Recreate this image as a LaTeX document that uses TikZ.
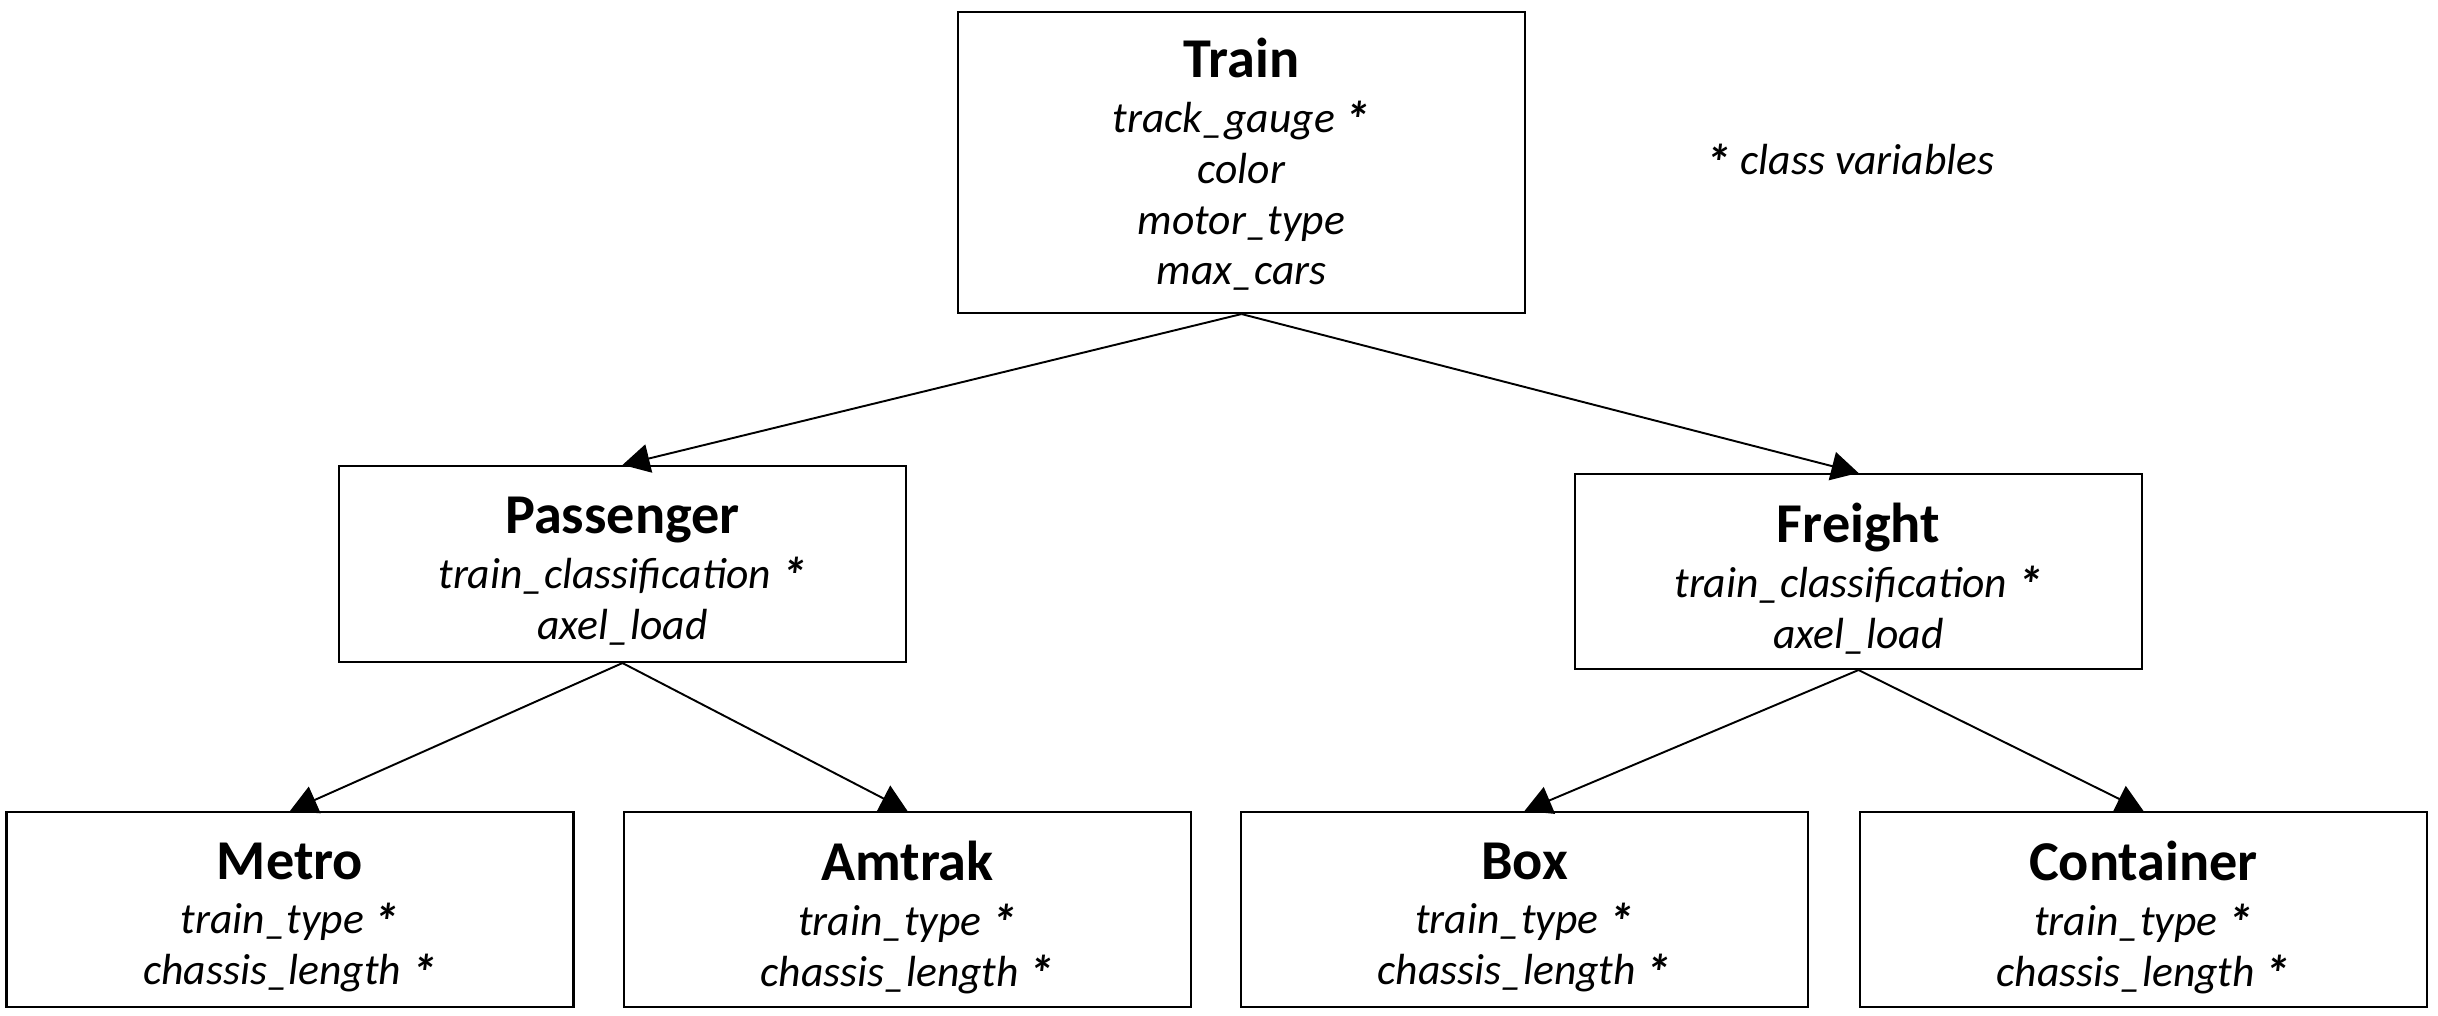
\documentclass[tikz,border=0pt]{standalone}
\usepackage{fontspec}
\setmainfont{Carlito}
\usetikzlibrary{arrows.meta}
\newcommand\attrfont{\fontsize{12.4}{14.5}\selectfont\itshape}
\newcommand\ttlfont{\fontsize{16}{19}\selectfont\bfseries\upshape}
\newcommand\clsstar{\raisebox{-1.6pt}{\fontsize{14.5}{14.5}\selectfont\bfseries *}}
\tikzset{
  cls/.style={draw, line width=0.6pt, minimum width=5.67cm, inner sep=0pt},
  clstext/.style={align=center, inner sep=0pt, font=\attrfont},
  inh/.style={-{Triangle[length=7.7pt,width=8.2pt]}, line width=0.55pt},
}
\begin{document}
\begin{tikzpicture}
\useasboundingbox (0,0) rectangle (24.38,10.16);
\node[cls, minimum height=3.01cm] (train) at (12.415,8.535) {};
\node[cls, minimum height=1.96cm] (pass) at (6.225,4.52) {};
\node[cls, minimum height=1.95cm] (freight) at (18.585,4.445) {};
\node[cls, minimum height=1.95cm] (metro) at (2.90,1.065) {};
\node[cls, minimum height=1.95cm] (amtrak) at (9.075,1.065) {};
\node[cls, minimum height=1.95cm] (box) at (15.245,1.065) {};
\node[cls, minimum height=1.95cm] (cont) at (21.435,1.065) {};
\node[clstext] (train-t) at ([yshift=-0.02cm]train.center)
  {{\ttlfont Train}\\[1pt] track\_gauge \clsstar\\ color\\ motor\_type\\ max\_cars};
\node[clstext] (pass-t) at ([yshift=-0.07cm]pass.center)
  {{\ttlfont Passenger}\\[1pt] train\_classification \clsstar\\ axel\_load};
\node[clstext] (freight-t) at ([yshift=-0.07cm]freight.center)
  {{\ttlfont Freight}\\[1pt] train\_classification \clsstar\\ axel\_load};
\node[clstext] (metro-t) at ([yshift=-0.08cm]metro.center)
  {{\ttlfont Metro}\\[1pt] train\_type \clsstar\\ chassis\_length \clsstar};
\node[clstext] (amtrak-t) at ([yshift=-0.08cm]amtrak.center)
  {{\ttlfont Amtrak}\\[1pt] train\_type \clsstar\\ chassis\_length \clsstar};
\node[clstext] (box-t) at ([yshift=-0.08cm]box.center)
  {{\ttlfont Box}\\[1pt] train\_type \clsstar\\ chassis\_length \clsstar};
\node[clstext] (cont-t) at ([yshift=-0.08cm]cont.center)
  {{\ttlfont Container}\\[1pt] train\_type \clsstar\\ chassis\_length \clsstar};
\node[clstext] (note) at (18.50,8.54) {\clsstar{} class variables};
\draw[inh] (train.south) -- (pass.north);
\draw[inh] (train.south) -- (freight.north);
\draw[inh] (pass.south) -- (metro.north);
\draw[inh] (pass.south) -- (amtrak.north);
\draw[inh] (freight.south) -- (box.north);
\draw[inh] (freight.south) -- (cont.north);
\end{tikzpicture}
\end{document}
